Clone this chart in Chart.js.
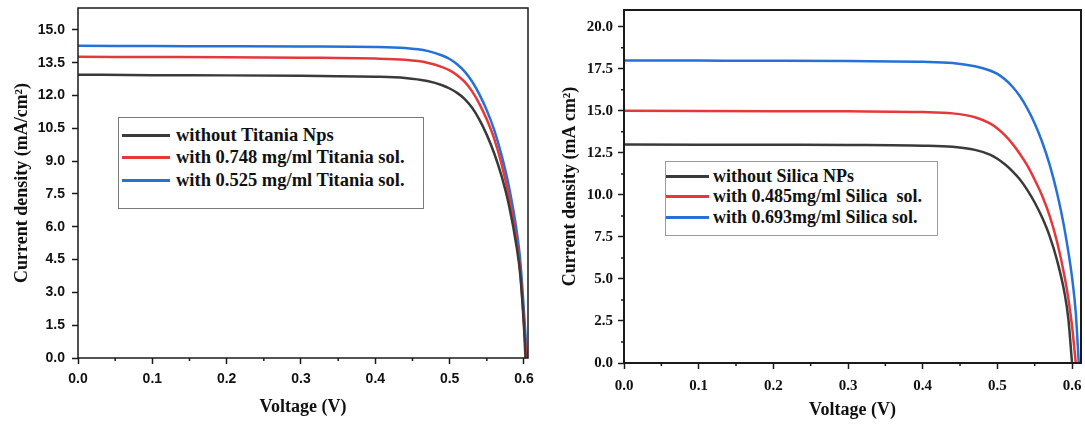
<!DOCTYPE html>
<html>
<head>
<meta charset="utf-8">
<script src="https://cdn.jsdelivr.net/npm/chart.js@4.4.1/dist/chart.umd.min.js"></script>
<style>
  html, body { margin: 0; padding: 0; background: #fff; }
  #wrap { position: relative; width: 1085px; height: 424px; overflow: hidden; }
  .panel { position: absolute; top: 0; height: 424px; }
  .legend { position: absolute; background: #fff; box-sizing: border-box;
            font-family: "Liberation Serif", "Times New Roman", serif; font-weight: bold; color: #111; }
  .legend .row { position: absolute; left: 0; white-space: pre; display: flex; align-items: center; }
  .legend .sw { display: inline-block; }
</style>
</head>
<body>
<div id="wrap">
  <div class="panel" style="left:0;width:540px"><canvas id="c1" width="540" height="424"></canvas></div>
  <div class="panel" style="left:540px;width:545px"><canvas id="c2" width="545" height="424"></canvas></div>
  <div id="lg1" class="legend" style="left:118px;top:117px;width:306px;height:92px;border:1.5px solid #7a7a7a;"></div>
  <div id="lg2" class="legend" style="left:665px;top:161px;width:273px;height:75px;border:1px solid #9a9a9a;"></div>
</div>
<script>
// ---------------- Left panel: Titania ----------------
const titaniaLabels = ["without Titania Nps", "with 0.748 mg/ml Titania sol.", "with 0.525 mg/ml Titania sol."];
const titaniaV0 = [0, 0.1, 0.2, 0.3, 0.4, 0.44, 0.47, 0.49, 0.5, 0.51, 0.52, 0.53, 0.54, 0.55, 0.56, 0.57, 0.58, 0.59, 0.595, 0.6, 0.602];
const titaniaJ0 = [12.95, 12.93, 12.92, 12.9, 12.86, 12.8, 12.66, 12.47, 12.32, 12.12, 11.85, 11.45, 10.9, 10.2, 9.35, 8.3, 6.95, 5.1, 3.8, 1.4, 0];
const titaniaV1 = [0, 0.1, 0.2, 0.3, 0.4, 0.44, 0.47, 0.49, 0.5, 0.51, 0.52, 0.53, 0.54, 0.55, 0.56, 0.57, 0.58, 0.59, 0.595, 0.6, 0.603];
const titaniaJ1 = [13.77, 13.76, 13.75, 13.73, 13.69, 13.63, 13.5, 13.3, 13.15, 12.93, 12.63, 12.2, 11.62, 10.9, 10.02, 8.85, 7.35, 5.35, 3.95, 1.6, 0];
const titaniaV2 = [0, 0.1, 0.2, 0.3, 0.4, 0.44, 0.47, 0.49, 0.5, 0.51, 0.52, 0.53, 0.54, 0.55, 0.56, 0.57, 0.58, 0.59, 0.595, 0.6, 0.604];
const titaniaJ2 = [14.27, 14.26, 14.25, 14.24, 14.22, 14.17, 14.04, 13.83, 13.67, 13.43, 13.1, 12.65, 12.05, 11.32, 10.42, 9.25, 7.8, 5.85, 4.45, 2.1, 0];

// ---------------- Right panel: Silica ----------------
const silicaLabels = ["without Silica NPs", "with 0.485mg/ml Silica  sol.", "with 0.693mg/ml Silica sol."];
const silicaV0 = [0, 0.1, 0.2, 0.3, 0.4, 0.44, 0.47, 0.49, 0.5, 0.51, 0.52, 0.53, 0.54, 0.55, 0.56, 0.57, 0.58, 0.59, 0.595, 0.6];
const silicaJ0 = [13.0, 12.99, 12.98, 12.97, 12.93, 12.86, 12.68, 12.4, 12.15, 11.82, 11.42, 10.93, 10.3, 9.55, 8.65, 7.55, 6.1, 4.15, 2.65, 0];
const silicaV1 = [0, 0.1, 0.2, 0.3, 0.4, 0.44, 0.47, 0.49, 0.5, 0.51, 0.52, 0.53, 0.54, 0.55, 0.56, 0.57, 0.58, 0.59, 0.595, 0.6, 0.605];
const silicaJ1 = [15.0, 14.99, 14.98, 14.97, 14.93, 14.85, 14.62, 14.25, 13.95, 13.55, 13.05, 12.45, 11.75, 10.9, 9.95, 8.75, 7.2, 5.15, 3.85, 2.2, 0];
const silicaV2 = [0, 0.1, 0.2, 0.3, 0.4, 0.44, 0.47, 0.49, 0.5, 0.51, 0.52, 0.53, 0.54, 0.55, 0.56, 0.57, 0.58, 0.59, 0.6, 0.605, 0.609];
const silicaJ2 = [18.0, 17.99, 17.98, 17.96, 17.92, 17.85, 17.65, 17.4, 17.2, 16.88, 16.45, 15.88, 15.15, 14.25, 13.15, 11.8, 10.1, 7.95, 5.1, 3.0, 0];

const seriesColors = ["#3a3a3a", "#e5383b", "#2670d8"];

const pts = (v, j) => v.map((x, i) => ({ x: x, y: j[i] }));

const framePlugin = {
  id: 'frame',
  afterDraw(chart, args, opts) {
    const { ctx, chartArea: a } = chart;
    ctx.save();
    ctx.strokeStyle = opts.color;
    ctx.lineWidth = opts.width;
    ctx.strokeRect(a.left, a.top, a.right - a.left, a.bottom - a.top);
    ['x', 'y'].forEach(id => {
      const len = opts.minor[id];
      if (!len) return;
      const s = chart.scales[id];
      const t = s.ticks;
      ctx.lineWidth = opts.tickWidth;
      ctx.beginPath();
      for (let i = 0; i < t.length - 1; i++) {
        const p = s.getPixelForValue((t[i].value + t[i + 1].value) / 2);
        if (id === 'x') { ctx.moveTo(p, a.bottom); ctx.lineTo(p, a.bottom + len); }
        else { ctx.moveTo(a.left, p); ctx.lineTo(a.left - len, p); }
      }
      ctx.stroke();
    });
    ctx.restore();
  }
};

function makeChart(canvasId, labels, series, cfg) {
  const datasets = series.map((s, i) => ({
    label: labels[i],
    data: pts(s[0], s[1]),
    borderColor: seriesColors[i],
    backgroundColor: seriesColors[i],
    borderWidth: cfg.lineWidth,
    pointRadius: 0,
    cubicInterpolationMode: 'monotone',
    fill: false
  }));
  return new Chart(document.getElementById(canvasId), {
    type: 'line',
    data: { datasets },
    plugins: [framePlugin],
    options: {
      responsive: false,
      animation: false,
      events: [],
      layout: { padding: cfg.padding },
      plugins: {
        legend: { display: false },
        tooltip: { enabled: false },
        frame: { color: '#1a1a1a', width: cfg.frameWidth, tickWidth: 1.5, minor: cfg.minor }
      },
      scales: {
        x: {
          type: 'linear', min: 0, max: cfg.xMax,
          afterFit(s) { s.height = cfg.xHeight; s.paddingLeft = 0; s.paddingRight = 0; },
          border: { display: false },
          grid: { drawOnChartArea: false, tickLength: 6, tickColor: '#1a1a1a', tickWidth: 1.5 },
          ticks: {
            stepSize: 0.1, includeBounds: false, maxRotation: 0, autoSkip: false,
            padding: cfg.xTickPad, color: '#111',
            font: cfg.tickFont,
            callback: v => Number(v).toFixed(1)
          },
          title: {
            display: true, text: 'Voltage (V)', color: '#111',
            font: { family: 'Liberation Serif', weight: 'bold', size: 18 },
            padding: { top: 0, bottom: cfg.xTitlePad }
          }
        },
        y: {
          type: 'linear', min: 0, max: cfg.yMax,
          afterFit(s) { s.width = cfg.yWidth; s.paddingTop = 0; s.paddingBottom = 0; },
          border: { display: false },
          grid: { drawOnChartArea: false, tickLength: 6, tickColor: '#1a1a1a', tickWidth: 1.5 },
          ticks: {
            stepSize: cfg.yStep, includeBounds: false, autoSkip: false,
            padding: cfg.yTickPad, color: '#111',
            font: cfg.tickFont,
            callback: v => Number(v).toFixed(1)
          },
          title: {
            display: true, text: cfg.yTitle, color: '#111',
            font: { family: 'Liberation Serif', weight: 'bold', size: 18 },
            padding: { top: cfg.yTitlePad, bottom: 0 }
          }
        }
      }
    }
  });
}

function makeLegend(divId, chart, cfg) {
  const div = document.getElementById(divId);
  chart.data.datasets.forEach((ds, i) => {
    const row = document.createElement('div');
    row.className = 'row';
    row.style.top = (cfg.top + i * cfg.gap) + 'px';
    row.style.left = cfg.left + 'px';
    row.style.height = cfg.gap + 'px';
    row.style.fontSize = cfg.font + 'px';
    const sw = document.createElement('span');
    sw.className = 'sw';
    sw.style.width = cfg.swLen + 'px';
    sw.style.height = '3px';
    sw.style.background = ds.borderColor;
    sw.style.marginRight = cfg.swGap + 'px';
    const tx = document.createElement('span');
    tx.textContent = ds.label;
    row.appendChild(sw);
    row.appendChild(tx);
    div.appendChild(row);
  });
}

const chart1 = makeChart('c1', titaniaLabels,
  [[titaniaV0, titaniaJ0], [titaniaV1, titaniaJ1], [titaniaV2, titaniaJ2]],
  {
    padding: { top: 8, right: 12, left: 0, bottom: 0 },
    xMax: 0.6054, yMax: 16, yStep: 1.5, xHeight: 66, yWidth: 78,
    lineWidth: 2.5, frameWidth: 1.5,
    minor: { x: 3, y: 0 },
    tickFont: { family: 'Liberation Sans', weight: 'bold', size: 14 },
    xTickPad: 7, yTickPad: 7, xTitlePad: 6, yTitlePad: 12,
    yTitle: 'Current density (mA/cm²)'
  });

const chart2 = makeChart('c2', silicaLabels,
  [[silicaV0, silicaJ0], [silicaV1, silicaJ1], [silicaV2, silicaJ2]],
  {
    padding: { top: 10, right: 4, left: 0, bottom: 0 },
    xMax: 0.612, yMax: 21, yStep: 2.5, xHeight: 61, yWidth: 84,
    lineWidth: 2.5, frameWidth: 2,
    minor: { x: 3, y: 3 },
    tickFont: { family: 'Liberation Serif', weight: 'bold', size: 15 },
    xTickPad: 8, yTickPad: 5, xTitlePad: 3, yTitlePad: 20,
    yTitle: 'Current density (mA cm²)'
  });

makeLegend('lg1', chart1, { top: 6, left: 3, gap: 22.5, font: 18.5, swLen: 48, swGap: 6 });
makeLegend('lg2', chart2, { top: 4, left: 0, gap: 20.5, font: 18, swLen: 43, swGap: 4 });
</script>
</body>
</html>
